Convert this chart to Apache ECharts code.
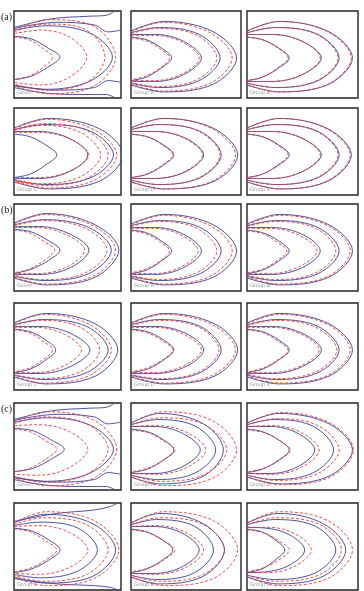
<!DOCTYPE html>
<html>
<head>
<meta charset="utf-8">
<script src="https://cdn.jsdelivr.net/npm/echarts@6/dist/echarts.min.js"></script>
<style>
  html, body { margin: 0; padding: 0; background: #fff; }
  #chart { width: 364px; height: 591px; }
</style>
</head>
<body>
<div id="chart"></div>
<script>
// panel and sub-plot titles
const panelLabels = ['(a)', '(b)', '(c)'];
const plotNames = ['Gover', 'Group A', 'Group B', 'Group C', 'Group D', 'Group E'];

// contour lines, one string per line: "x y x y ..." (x 0-100 from left, y 0-100 from top)
// order of sub plots: Gover, Group A, Group B, Group C, Group D, Group E
const aBlue = [
  ['0 29 16 32 31 42 43 53 31 65 16 75 0 79', '0 22 30 17 72 26 92 53 72 80 30 90 0 85',
   '0 19 35 9 70 6 86 5 94 0', '0 88 35 95 70 96 86 96 95 100',
   '0 20 40 13 75 16 88 24 100 22', '0 86 40 91 75 88 88 80 100 82'],
  ['0 30 14 33 27 42 37 54 27 66 14 76 0 80', '0 27 22 27 48 35 64 54 48 73 22 81 0 81',
   '0 25 25 19 62 27 81 54 62 80 25 88 0 83', '0 23 30 12 75 24 96 54 75 84 30 93 0 85'],
  ['0 30 14 33 28 42 38 54 28 66 14 76 0 80', '0 27 23 27 50 35 67 54 50 73 23 81 0 81',
   '0 25 26 19 64 27 83 54 64 80 26 88 0 83', '0 23 29 12 74 24 95 54 74 84 29 93 0 85'],
  ['0 30 15 33 29 42 40 54 29 66 15 76 0 80', '0 27 23 27 52 35 69 54 52 73 23 81 0 81',
   '0 25 29 19 72 27 93 54 72 80 29 88 0 83', '0 23 32 12 80 24 102 54 80 84 32 93 0 85'],
  ['0 30 15 33 29 42 39 54 29 66 15 76 0 80', '0 27 22 27 50 35 66 54 50 73 22 81 0 81',
   '0 25 25 19 63 27 82 54 63 80 25 88 0 83', '0 23 30 12 76 24 97 54 76 84 30 93 0 85'],
  ['0 30 14 33 28 42 38 54 28 66 14 76 0 80', '0 27 23 27 50 35 67 54 50 73 23 81 0 81',
   '0 25 26 19 64 27 83 54 64 80 26 88 0 83', '0 23 29 12 73 24 94 54 73 84 29 93 0 85']
];
const aRed = [
  ['0 30 14 33 27 43 36 53 27 65 14 75 0 78', '0 26 25 22 52 30 68 53 52 76 25 85 0 82',
   '0 24 30 15 68 22 85 53 68 82 30 91 0 84', '0 22 32 10 75 18 95 53 75 86 32 95 0 86'],
  ['0 31 13 34 26 43 35 54 26 66 13 75 0 79', '0 28 21 28 47 36 62 54 47 72 21 80 0 80',
   '0 26 24 20 60 28 78 54 60 79 24 87 0 82', '0 24 29 13 72 25 92 54 72 83 29 92 0 84'],
  ['0 30 14 33 27 42 37 54 27 66 14 76 0 80', '0 27 22 27 50 35 66 54 50 73 22 81 0 81',
   '0 25 25 19 63 27 82 54 63 80 25 88 0 83', '0 23 29 12 73 24 94 54 73 84 29 93 0 85'],
  ['0 28 24 28 53 36 70 54 53 72 24 80 0 80', '0 26 25 20 62 28 81 54 62 79 25 87 0 82',
   '0 25 27 18 68 26 88 54 68 81 27 89 0 83', '0 24 30 13 75 25 96 54 75 83 30 92 0 84'],
  ['0 30 14 33 28 42 38 54 28 66 14 76 0 80', '0 27 22 27 49 35 65 54 49 73 22 81 0 81',
   '0 25 25 19 62 27 81 54 62 80 25 88 0 83', '0 23 29 12 74 24 95 54 74 84 29 93 0 85'],
  ['0 30 14 33 27 42 37 54 27 66 14 76 0 80', '0 27 22 27 50 35 66 54 50 73 22 81 0 81',
   '0 25 25 19 63 27 82 54 63 80 25 88 0 83', '0 23 29 12 72 24 93 54 72 84 29 93 0 85']
];

const bBlue = [
  ['0 29 16 32 32 42 43 53 32 65 16 75 0 80', '0 26 24 26 53 35 70 53 53 73 24 81 0 81',
   '0 24 28 18 70 27 91 53 70 80 28 88 0 83', '0 22 30 11 76 24 98 53 76 84 30 93 0 85'],
  ['0 30 14 33 27 42 37 54 27 66 14 76 0 80', '0 27 22 27 48 35 64 54 48 73 22 81 0 81',
   '0 25 25 19 63 27 82 54 63 80 25 88 0 83', '0 23 30 12 75 24 96 54 75 84 30 93 0 85'],
  ['0 30 14 33 28 42 38 54 28 66 14 76 0 80', '0 27 22 27 50 35 66 54 50 73 22 81 0 81',
   '0 25 26 19 64 27 83 54 64 80 26 88 0 83', '0 23 29 12 74 24 95 54 74 84 29 93 0 85'],
  ['0 30 15 33 29 42 39 54 29 66 15 76 0 80', '0 27 24 27 53 35 71 54 53 73 24 81 0 81',
   '0 25 27 19 68 27 88 54 68 80 27 88 0 83', '0 23 30 12 76 24 97 54 76 84 30 93 0 85'],
  ['0 30 15 33 29 42 39 54 29 66 15 76 0 80', '0 27 22 27 50 35 66 54 50 73 22 81 0 81',
   '0 25 25 19 63 27 82 54 63 80 25 88 0 83', '0 23 30 12 76 24 97 54 76 84 30 93 0 85'],
  ['0 30 14 33 28 42 38 54 28 66 14 76 0 80', '0 27 23 27 50 35 67 54 50 73 23 81 0 81',
   '0 25 26 19 64 27 83 54 64 80 26 88 0 83', '0 23 29 12 74 24 95 54 74 84 29 93 0 85']
];
const bRed = [
  ['0 30 14 33 28 43 38 53 28 65 14 75 0 79', '0 27 22 27 50 36 66 53 50 72 22 80 0 80',
   '0 25 27 19 67 28 87 53 67 79 27 87 0 82', '0 23 29 12 74 25 95 53 74 83 29 92 0 84'],
  ['0 31 13 34 26 43 35 54 26 66 13 75 0 79', '0 28 21 28 46 36 61 54 46 72 21 80 0 80',
   '0 26 24 20 60 28 78 54 60 79 24 87 0 82', '0 24 29 13 72 25 92 54 72 83 29 92 0 84'],
  ['0 31 14 34 26 43 36 54 26 66 14 75 0 79', '0 28 21 28 47 36 63 54 47 72 21 80 0 80',
   '0 26 25 20 62 28 80 54 62 79 25 87 0 82', '0 24 29 13 73 25 93 54 73 83 29 92 0 84'],
  ['0 31 14 34 26 43 36 54 26 66 14 75 0 79', '0 28 21 28 47 36 63 54 47 72 21 80 0 80',
   '0 26 25 20 62 28 80 54 62 79 25 87 0 82', '0 24 28 13 71 25 91 54 71 83 28 92 0 84'],
  ['0 31 14 34 28 43 38 54 28 66 14 75 0 79', '0 28 22 28 48 36 64 54 48 72 22 80 0 80',
   '0 26 25 20 62 28 80 54 62 79 25 87 0 82', '0 24 29 13 74 25 95 54 74 83 29 92 0 84'],
  ['0 31 14 34 27 43 37 54 27 66 14 75 0 79', '0 28 22 28 49 36 65 54 49 72 22 80 0 80',
   '0 26 25 20 62 28 81 54 62 79 25 87 0 82', '0 24 29 13 73 25 93 54 73 83 29 92 0 84']
];

const cBlue = [
  ['0 29 18 32 34 42 47 53 34 65 18 75 0 79', '0 22 30 17 72 26 93 53 72 80 30 90 0 85',
   '0 19 35 9 70 6 86 5 94 0', '0 88 35 95 70 96 86 96 95 100',
   '0 20 40 13 75 16 88 24 100 22', '0 86 40 91 75 88 88 80 100 82'],
  ['0 30 15 33 29 42 39 54 29 66 15 76 0 80', '0 27 21 27 47 35 63 54 47 73 21 81 0 81',
   '0 25 24 19 59 27 77 54 59 80 24 88 0 83', '0 23 26 12 66 24 84 54 66 84 26 93 0 85'],
  ['0 30 14 33 28 42 38 54 28 66 14 76 0 80', '0 27 21 27 46 35 61 54 46 73 21 81 0 81',
   '0 25 24 19 60 27 78 54 60 80 24 88 0 83', '0 23 29 12 74 24 95 54 74 84 29 93 0 85'],
  ['0 29 16 32 32 42 43 54 32 66 16 76 0 80', '0 26 24 22 60 29 78 54 60 78 24 86 0 82',
   '0 23 29 13 74 24 95 54 74 84 29 92 0 85',
   '0 21 40 12 75 8 90 4 97 0', '0 87 40 93 75 95 90 97 97 100'],
  ['0 30 14 33 28 42 38 54 28 66 14 76 0 80', '0 27 21 27 47 35 62 54 47 73 21 81 0 81',
   '0 25 23 19 58 27 75 54 58 80 23 88 0 83', '0 23 26 12 66 24 85 54 66 84 26 93 0 85'],
  ['0 30 13 33 25 42 34 54 25 66 13 76 0 80', '0 28 18 29 39 37 52 54 39 71 18 79 0 80',
   '0 25 25 19 62 27 80 54 62 80 25 88 0 83', '0 23 28 12 69 24 89 54 69 84 28 93 0 85']
];
const cRed = [
  ['0 30 15 33 29 43 40 53 29 65 15 75 0 79', '0 26 23 25 52 33 69 53 52 74 23 83 0 82',
   '0 24 27 16 68 24 88 53 68 82 27 91 0 84', '0 22 30 10 75 20 96 53 75 86 30 95 0 86'],
  ['0 31 15 34 29 43 40 54 29 66 15 75 0 79', '0 27 23 26 51 34 68 54 51 74 23 82 0 81',
   '0 25 27 17 67 25 87 54 67 82 27 90 0 83', '0 23 30 10 75 21 96 54 75 86 30 95 0 85'],
  ['0 31 15 34 29 43 39 54 29 66 15 75 0 79', '0 27 22 26 49 34 65 54 49 74 22 82 0 81',
   '0 25 26 18 64 26 83 54 64 81 26 89 0 83', '0 23 30 11 75 23 96 54 75 85 30 94 0 85'],
  ['0 30 15 33 29 43 40 54 29 66 15 75 0 79', '0 27 23 26 52 34 69 54 52 74 23 82 0 81',
   '0 25 27 17 68 25 88 54 68 82 27 90 0 83', '0 23 30 10 76 21 98 54 76 86 30 95 0 85'],
  ['0 31 15 34 29 43 40 54 29 66 15 75 0 79', '0 27 22 26 50 34 66 54 50 74 22 82 0 81',
   '0 25 26 17 66 25 85 54 66 82 26 90 0 83', '0 23 30 10 76 21 97 54 76 86 30 95 0 85'],
  ['0 31 14 34 28 43 38 54 28 66 14 75 0 79', '0 28 20 28 44 36 58 54 44 72 20 80 0 80',
   '0 25 26 17 66 25 85 54 66 82 26 90 0 83', '0 23 29 10 74 21 95 54 74 86 29 95 0 85']
];

const panels = [[aBlue, aRed], [bBlue, bRed], [cBlue, cRed]];

// layout of the 6 x 3 boxes
const colLeft = [14, 131, 247];
const colW = [107, 110, 111];
const rowTop = [11, 108, 204, 303, 403, 503];
const rowH = 87;

function toPoints(str) {
  const n = str.trim().split(/\s+/).map(Number);
  const pts = [];
  for (let i = 0; i < n.length; i += 2) pts.push([n[i], n[i + 1]]);
  return pts;
}

let grid = [], xAxis = [], yAxis = [], series = [], graphic = [];

panels.forEach((pair, p) => {
  graphic.push({
    type: 'text', left: 1, top: rowTop[p * 2] + 1,
    style: { text: panelLabels[p], fontSize: 10, fontFamily: 'Liberation Serif', fill: '#222' }
  });
  for (let s = 0; s < 6; s++) {
    const row = p * 2 + Math.floor(s / 3);
    const col = s % 3;
    const gi = grid.length;
    grid.push({
      left: colLeft[col], top: rowTop[row], width: colW[col], height: rowH,
      show: true, borderColor: '#222', borderWidth: 1.4, backgroundColor: '#fff'
    });
    xAxis.push({ gridIndex: gi, type: 'value', min: 0, max: 100, show: false });
    yAxis.push({ gridIndex: gi, type: 'value', min: 0, max: 100, inverse: true, show: false });
    pair[0][s].forEach((c) => {
      series.push({
        type: 'line', xAxisIndex: gi, yAxisIndex: gi, data: toPoints(c),
        symbol: 'none', smooth: 0.35, clip: true, silent: true,
        lineStyle: { color: '#3c3f96', width: 0.9 }
      });
    });
    pair[1][s].forEach((c) => {
      series.push({
        type: 'line', xAxisIndex: gi, yAxisIndex: gi, data: toPoints(c),
        symbol: 'none', smooth: 0.35, clip: true, silent: true,
        lineStyle: { color: '#e8393a', width: 0.9, type: [3, 2] }
      });
    });
    graphic.push({
      type: 'text', left: colLeft[col] + 3, top: rowTop[row] + rowH - 8,
      style: { text: plotNames[s], fontSize: 5, fontFamily: 'DejaVu Sans', fill: '#999' }
    });
  }
});

let myChart = echarts.init(document.getElementById('chart'));
myChart.setOption({
  animation: false,
  backgroundColor: '#fff',
  grid: grid,
  xAxis: xAxis,
  yAxis: yAxis,
  series: series,
  graphic: graphic
});
</script>
</body>
</html>
